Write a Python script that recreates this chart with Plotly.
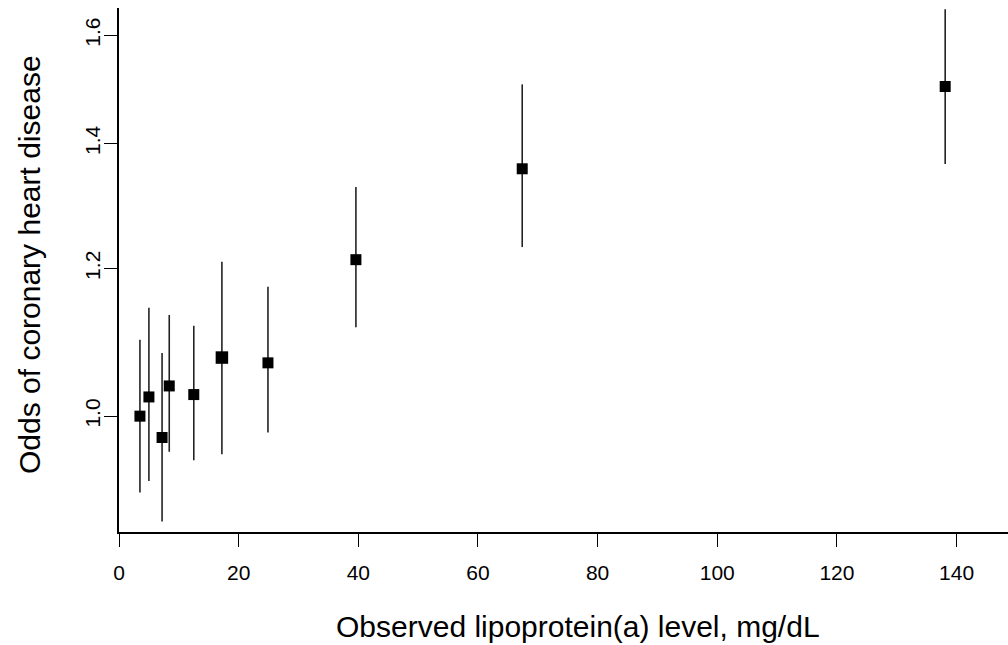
import math
import plotly.graph_objects as go

# Data
lpa_level = [3.5, 5.0, 7.2, 8.4, 12.5, 17.2, 24.9, 39.6, 67.4, 138.1]
odds = [1.000, 1.024, 0.974, 1.038, 1.027, 1.075, 1.068, 1.213, 1.357, 1.502]
ci_lower = [0.910, 0.923, 0.878, 0.957, 0.947, 0.954, 0.980, 1.116, 1.232, 1.365]
ci_upper = [1.099, 1.143, 1.081, 1.133, 1.118, 1.210, 1.173, 1.327, 1.506, 1.652]
y_ticks = [1.0, 1.2, 1.4, 1.6]
y_tick_labels = ["1.0", "1.2", "1.4", "1.6"]
x_ticks = [0, 20, 40, 60, 80, 100, 120, 140]

err_plus = [u - o for u, o in zip(ci_upper, odds)]
err_minus = [o - l for o, l in zip(odds, ci_lower)]

marker_sizes = [11, 11, 11, 11, 11, 12.5, 11, 11, 11, 11]

FONT = "Liberation Sans, Arial, sans-serif"

fig = go.Figure()
fig.add_trace(go.Scatter(
    x=lpa_level, y=odds, mode="markers",
    marker=dict(symbol="square", size=marker_sizes, color="black", opacity=1,
                line=dict(width=0)),
    error_y=dict(type="data", array=err_plus, arrayminus=err_minus, symmetric=False,
                 width=0, thickness=1.6, color="#222222"),
    showlegend=False,
))

W, H = 1008, 645
L, R, T, B = 119, 0, 8, 113
plot_w = W - L - R
plot_h = H - T - B

fig.update_layout(
    width=W, height=H,
    margin=dict(l=L, r=R, t=T, b=B, pad=0),
    paper_bgcolor="white", plot_bgcolor="white",
    font=dict(family=FONT, color="black", size=21),
    xaxis=dict(
        range=[0, 148.6], tickvals=x_ticks, showgrid=False, zeroline=False,
        showline=True, linecolor="black", linewidth=1.6,
        ticks="outside", ticklen=13, tickwidth=1.3, tickcolor="black",
        tickfont=dict(size=21), ticklabelstandoff=8,
    ),
    yaxis=dict(
        type="log", range=[math.log10(0.8668), math.log10(1.6548)],
        tickvals=y_ticks, ticktext=y_tick_labels, tickangle=-90,
        showgrid=False, zeroline=False,
        showline=True, linecolor="black", linewidth=1.6,
        ticks="outside", ticklen=13, tickwidth=1.3, tickcolor="black",
        tickfont=dict(size=21), ticklabelstandoff=-4,
    ),
    annotations=[
        dict(text="Observed lipoprotein(a) level, mg/dL", xref="paper", yref="paper",
             x=(578 - L) / plot_w, y=0, xanchor="center", yanchor="middle",
             yshift=-(626 - (H - B)), showarrow=False, font=dict(size=30, family=FONT)),
        dict(text="Odds of coronary heart disease", xref="paper", yref="paper",
             x=0, y=((H - B) - 265) / plot_h, xanchor="center", yanchor="middle",
             xshift=29 - L, textangle=-90, showarrow=False, font=dict(size=30, family=FONT)),
    ],
)

fig.write_html("out.html")
